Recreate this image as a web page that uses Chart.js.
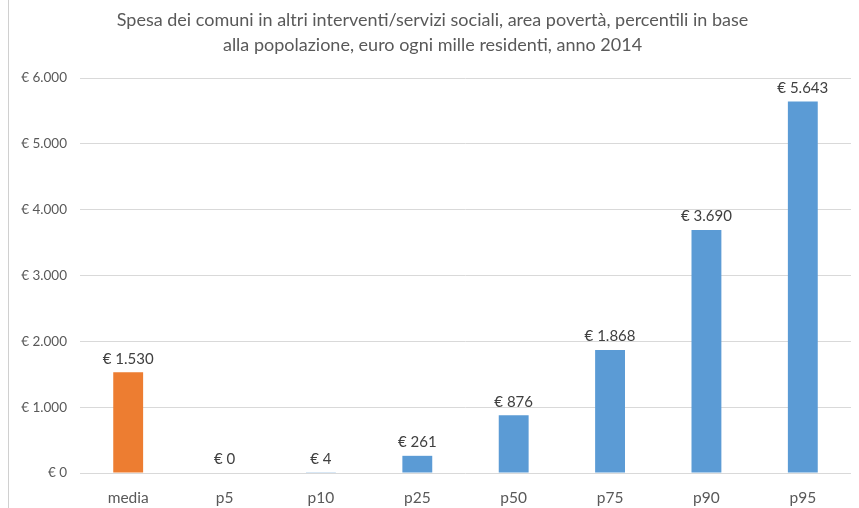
<!DOCTYPE html>
<html>
<head>
<meta charset="utf-8">
<script src="https://cdn.jsdelivr.net/npm/chart.js@4"></script>
<style>
html,body{margin:0;padding:0;background:#fff;}
#wrap{width:859px;height:508px;}
</style>
</head>
<body>
<div id="wrap"><canvas id="c" width="859" height="508"></canvas></div>
<script>
const categories = ["media", "p5", "p10", "p25", "p50", "p75", "p90", "p95"];
const values = [1530, 0, 4, 261, 876, 1868, 3690, 5643];
const valueLabels = ["€ 1.530", "€ 0", "€ 4", "€ 261", "€ 876", "€ 1.868", "€ 3.690", "€ 5.643"];
const yTickLabels = ["€ 0", "€ 1.000", "€ 2.000", "€ 3.000", "€ 4.000", "€ 5.000", "€ 6.000"];
const titleLines = ["Spesa dei comuni in altri interventi/servizi sociali, area povertà, percentili in base", "alla popolazione, euro ogni mille residenti, anno 2014"];

const ORANGE = "#ED7D31", BLUE = "#5B9BD5";
const FONT = "Lato, 'Open Sans', sans-serif";

const labelPlugin = {
  id: "valueLabels",
  afterDatasetsDraw(chart) {
    const ctx = chart.ctx;
    const meta = chart.getDatasetMeta(0);
    ctx.save();
    ctx.font = "15px " + FONT;
    ctx.fillStyle = "#404040";
    ctx.textAlign = "center";
    ctx.textBaseline = "bottom";
    meta.data.forEach((bar, i) => {
      ctx.fillText(valueLabels[i], bar.x, bar.y - 6);
    });
    ctx.restore();
  }
};
const framePlugin = {
  id: "frame",
  beforeDraw(chart) {
    const ctx = chart.ctx;
    ctx.save();
    ctx.fillStyle = "#fff";
    ctx.fillRect(0, 0, chart.width, chart.height);
    ctx.strokeStyle = "#D0D0D0";
    ctx.lineWidth = 1;
    ctx.beginPath();
    ctx.moveTo(8.5, 0);
    ctx.lineTo(8.5, chart.height);
    ctx.stroke();
    ctx.restore();
  }
};

new Chart(document.getElementById("c"), {
  type: "bar",
  data: {
    labels: categories,
    datasets: [{
      data: values,
      backgroundColor: categories.map((c, i) => i === 0 ? ORANGE : BLUE),
      borderWidth: 0,
      barPercentage: 0.31,
      categoryPercentage: 1.0
    }]
  },
  options: {
    responsive: false,
    animation: false,
    layout: { padding: { left: 14, right: 8, top: 0, bottom: 0 } },
    plugins: {
      legend: { display: false },
      tooltip: { enabled: false },
      title: {
        display: true,
        text: titleLines,
        color: "#595959",
        font: { family: FONT, size: 18, weight: "normal", lineHeight: "25px" },
        padding: { top: 7.5, bottom: 20.5 }
      }
    },
    scales: {
      x: {
        grid: { display: false },
        border: { display: false },
        ticks: { color: "#595959", font: { family: FONT, size: 15.5 }, padding: 8 },
        afterFit(s) { s.height = 35; }
      },
      y: {
        min: 0, max: 6000,
        grid: { color: "#D9D9D9", lineWidth: 1, drawTicks: false },
        border: { display: false },
        ticks: {
          stepSize: 1000,
          color: "#595959",
          font: { family: FONT, size: 13.5 },
          padding: 13,
          callback: (v) => yTickLabels[Math.round(v / 1000)]
        },
        afterFit(s) { s.width = 66; }
      }
    }
  },
  plugins: [framePlugin, labelPlugin]
});
</script>
</body>
</html>
